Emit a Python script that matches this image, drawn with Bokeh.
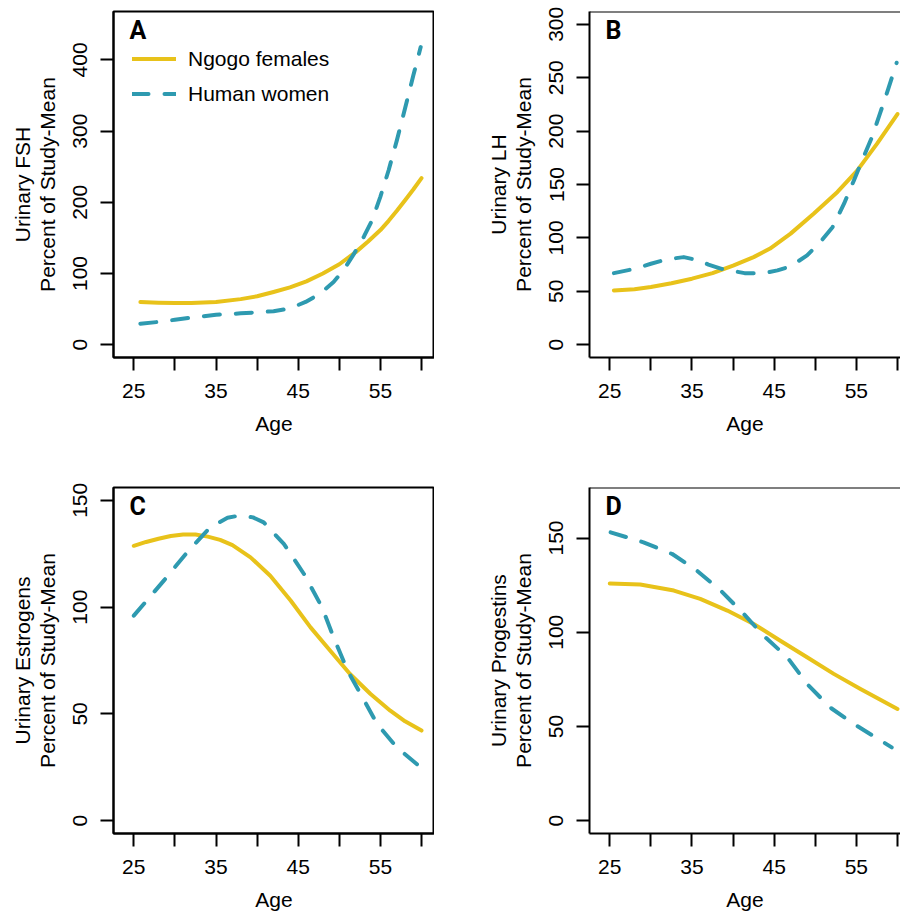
from bokeh.plotting import figure
from bokeh.layouts import column, row
from bokeh.models import Legend, LegendItem, Label, Span, FixedTicker, Range1d
from bokeh.embed import file_html
from bokeh.resources import INLINE

YELLOW = "#E8C21A"
TEAL = "#2E9AB0"
FONT = "Liberation Sans"

x_ticks = [25, 30, 35, 40, 45, 50, 55, 60]
x_tick_labels = {25: "25", 30: "", 35: "35", 40: "", 45: "45", 50: "", 55: "55", 60: ""}

# Panel A: FSH
a_ngogo_age = [25.8, 28, 30, 32, 35, 38, 40, 42, 44, 46, 48, 50, 52, 53.5, 55, 56, 57, 58, 59, 60.0]
a_ngogo_val = [60, 59, 58.5, 58.5, 60, 64, 68, 74, 80.5, 89, 100, 113, 130, 145, 161, 174, 188, 203, 218, 234]
a_human_age = [25.8, 28, 30, 32, 35, 38, 40, 42, 44, 45.9, 47.7, 49.3, 50.5, 51.8, 53, 54, 55, 56, 57, 58, 59, 59.9]
a_human_val = [29.5, 32, 35, 38, 42, 44, 45.5, 47, 51, 60, 72, 88, 104.5, 128, 152, 175, 208, 245, 287, 332, 378, 418]

# Panel B: LH
b_ngogo_age = [25.5, 28, 30, 32.5, 35, 37.5, 40, 42.5, 44.5, 47.0, 49.8, 52.7, 55.1, 57.5, 60.0]
b_ngogo_val = [50.8, 52, 54, 57.5, 61.8, 67, 74, 82, 90, 104, 122.7, 143, 163, 188, 216]
b_human_age = [25.5, 28, 30, 32, 34, 35.8, 37, 38.6, 40, 41.4, 43.8, 45.4, 47.0, 49.0, 50.6, 52.1, 53.5, 54.7, 55.7, 56.9, 57.9, 58.9, 59.9]
b_human_val = [67, 71, 75.8, 80, 82, 79, 75, 71, 69, 67, 67, 69.6, 73.3, 83.6, 96, 110, 132, 153.8, 172.6, 194.4, 217, 240, 264]

# Panel C: Estrogens
c_ngogo_age = [25, 26.5, 28, 29.5, 31, 32.5, 34, 35.5, 37, 39.2, 41.6, 44.1, 46.5, 48.9, 51.3, 53.8, 56.2, 58, 60.0]
c_ngogo_val = [128.7, 130.5, 132, 133.3, 134, 134, 133, 131.5, 129, 123.3, 114.7, 103, 90.5, 79.6, 68.7, 59.3, 51.5, 46.5, 42.2]
c_human_age = [25, 28.65, 31.5, 34.3, 36.4, 38, 39.5, 40.8, 43.25, 45.7, 47.9, 49.3, 51.0, 52.6, 54.6, 57.0, 59.9]
c_human_val = [96, 112.4, 125.7, 137.4, 141.8, 143, 142, 139.7, 129.6, 115.5, 99.9, 85.9, 70.3, 59.3, 45.3, 34.3, 25]

# Panel D: Progestins
d_ngogo_age = [25, 28.7, 32.8, 36, 39.3, 42.5, 45.75, 49, 52.25, 55.5, 60.0]
d_ngogo_val = [125.9, 125.3, 122.1, 117.7, 111.5, 104.4, 95.5, 86.7, 77.9, 69.9, 59.3]
d_human_age = [25.1, 29.1, 32.6, 35.6, 38.5, 41.3, 43.7, 46.6, 49, 51.8, 54.7, 58.3, 59.3]
d_human_val = [153, 147.7, 141.5, 132.7, 122.1, 109.7, 98.2, 86.7, 72.6, 60.1, 51.3, 41.6, 38.9]


def make_panel(letter, ylabel, yrange, yticks, ng_age, ng_val, hu_age, hu_val,
               border_left, border_top, border_bottom, frame_w, xrange, closed, legend=False):
    p = figure(frame_width=frame_w, frame_height=346,
               min_border_left=border_left, min_border_right=0,
               min_border_top=border_top, min_border_bottom=border_bottom,
               x_range=Range1d(*xrange), y_range=Range1d(*yrange),
               output_backend="svg", toolbar_location=None,
               background_fill_color="white", border_fill_color="white")
    p.grid.visible = False
    if closed:
        p.outline_line_color = "black"
        p.outline_line_width = 2
        p.outline_line_alpha = 1
    else:
        p.outline_line_color = None
        p.add_layout(Span(location=yrange[1], dimension="width",
                          line_color="black", line_width=2))
    for ax in (p.xaxis[0], p.yaxis[0]):
        ax.axis_line_color = "black"
        ax.axis_line_width = 2
        ax.major_tick_line_width = 2
        ax.major_tick_line_color = "black"
        ax.major_tick_out = 13
        ax.major_tick_in = 0
        ax.minor_tick_line_color = None
        ax.major_label_text_font = FONT
        ax.major_label_text_font_size = "21px"
        ax.major_label_text_color = "black"
        ax.axis_label_text_font = FONT
        ax.axis_label_text_font_size = "21px"
        ax.axis_label_text_font_style = "normal"
        ax.axis_label_text_color = "black"
    p.xaxis.ticker = FixedTicker(ticks=x_ticks)
    p.xaxis.major_label_overrides = x_tick_labels
    p.xaxis.axis_label = "Age"
    p.xaxis.major_label_standoff = 13
    p.xaxis.axis_label_standoff = 11
    p.yaxis.ticker = FixedTicker(ticks=yticks)
    p.yaxis.major_label_orientation = "vertical"
    p.yaxis.major_label_standoff = 13
    p.yaxis.axis_label = ylabel
    p.yaxis.axis_label_standoff = 12
    p.yaxis.axis_label_text_line_height = 1.07

    r_ng = p.line(ng_age, ng_val, line_color=YELLOW, line_width=4, line_cap="round", line_join="round")
    r_hu = p.line(hu_age, hu_val, line_color=TEAL, line_width=4, line_dash="16 16",
                  line_cap="round", line_join="round")

    p.add_layout(Label(x=16, y=346 - 4, x_units="screen", y_units="screen", text=letter,
                       text_font="Liberation Sans Narrow, Roboto", text_font_style="bold",
                       text_font_size="25px", text_baseline="top", text_color="black"))

    if legend:
        lg = Legend(items=[LegendItem(label="Ngogo females", renderers=[r_ng]),
                           LegendItem(label="Human women", renderers=[r_hu])],
                    location=(19, 251), orientation="vertical",
                    border_line_color=None, background_fill_alpha=0,
                    label_text_font=FONT, label_text_font_size="21px",
                    label_text_color="black",
                    glyph_width=44, glyph_height=25, label_height=25,
                    spacing=10, padding=0, margin=0, label_standoff=12)
        p.add_layout(lg)
    return p


XR_A = (22.53, 61.58)
XR_B = (22.53, 60.37)

pA = make_panel("A", "Urinary FSH\nPercent of Study-Mean", (-18, 468), [0, 100, 200, 300, 400],
                a_ngogo_age, a_ngogo_val, a_human_age, a_human_val,
                113, 11, 80, 321, XR_A, True, legend=True)
pB = make_panel("B", "Urinary LH\nPercent of Study-Mean", (-12, 312), [0, 50, 100, 150, 200, 250, 300],
                b_ngogo_age, b_ngogo_val, b_human_age, b_human_val,
                155, 11, 80, 311, XR_B, False)
pC = make_panel("C", "Urinary Estrogens\nPercent of Study-Mean", (-6, 156), [0, 50, 100, 150],
                c_ngogo_age, c_ngogo_val, c_human_age, c_human_val,
                113, 50, 78, 321, XR_A, True)
pD = make_panel("D", "Urinary Progestins\nPercent of Study-Mean", (-6.8, 176.8), [0, 50, 100, 150],
                d_ngogo_age, d_ngogo_val, d_human_age, d_human_val,
                155, 50, 78, 311, XR_B, False)

layout = column(row(pA, pB, spacing=0), row(pC, pD, spacing=0), spacing=0)

open("out.html", "w").write(file_html(layout, INLINE))
